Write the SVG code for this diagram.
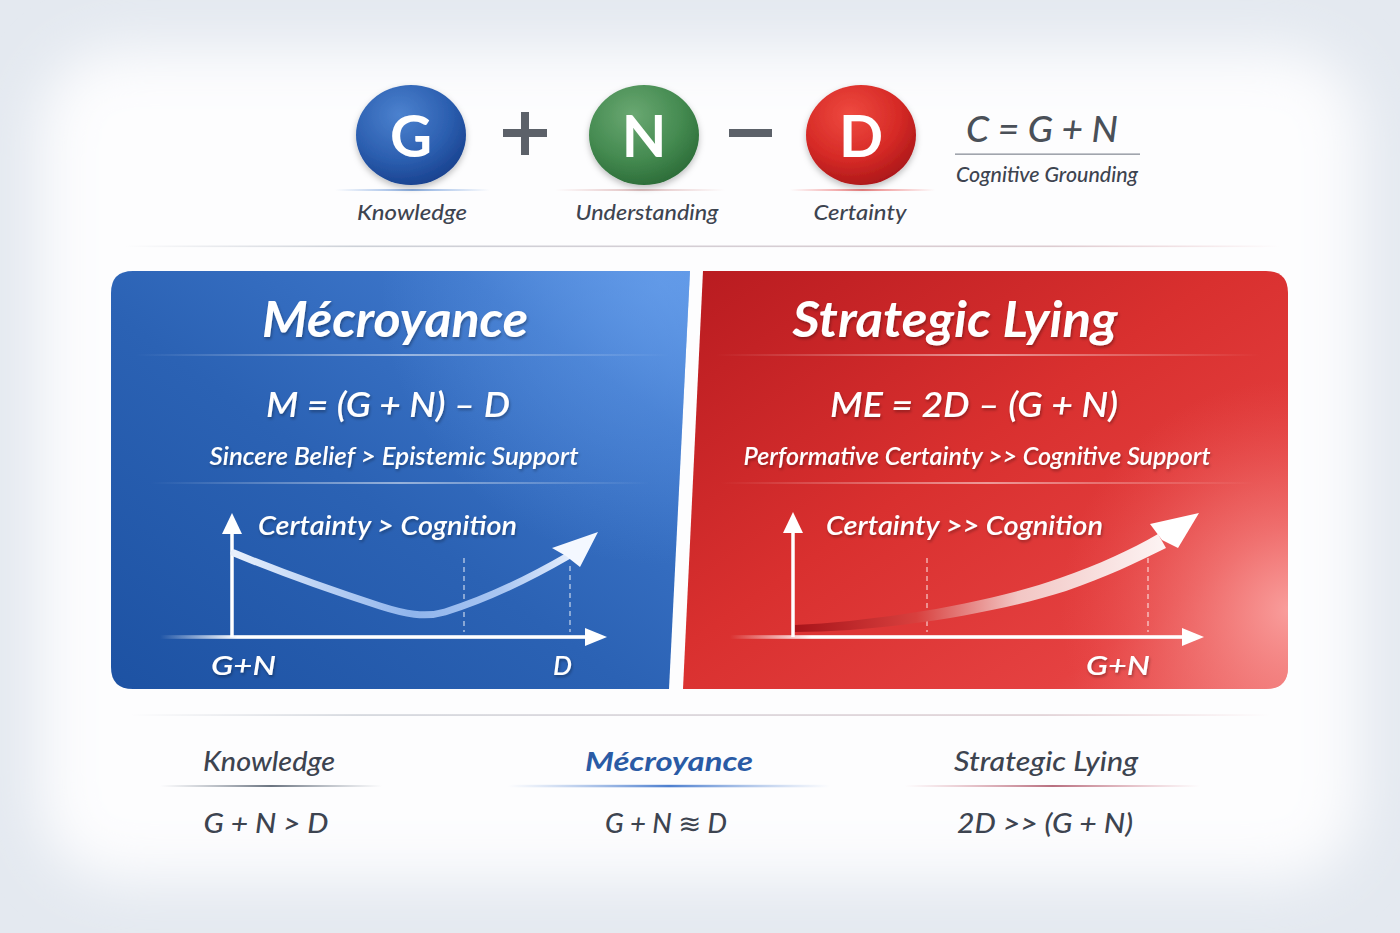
<svg xmlns="http://www.w3.org/2000/svg" width="1400" height="933" viewBox="0 0 1400 933">
<defs>
<style>
.t{font-family:Lato,"Open Sans","DejaVu Sans",sans-serif;font-style:italic}
.lbl{fill:#3d4450;font-weight:500}
.w{fill:#ffffff;filter:url(#ts);font-weight:600}
.b{font-weight:700}
.m{text-anchor:middle}
.ax{stroke:#ffffff;stroke-width:3.5;fill:none}
.ah{fill:#ffffff}
.dash{stroke:#ffffff;stroke-opacity:0.75;stroke-width:1.2;stroke-dasharray:5 4}
.ltr{font-family:Lato,"Open Sans",sans-serif;font-weight:700;fill:#ffffff;text-anchor:middle}
</style>
<filter id="ts" x="-10%" y="-30%" width="120%" height="160%"><feDropShadow dx="1" dy="2" stdDeviation="1.6" flood-color="#000" flood-opacity="0.32"/></filter>
<filter id="blur" x="-10%" y="-10%" width="120%" height="120%"><feGaussianBlur stdDeviation="28"/></filter>
<filter id="cs" x="-30%" y="-30%" width="160%" height="160%"><feDropShadow dx="0" dy="3" stdDeviation="3" flood-color="#000" flood-opacity="0.25"/></filter>
<radialGradient id="gG" cx="0.4" cy="0.3" r="0.75"><stop offset="0" stop-color="#4c82cf"/><stop offset="0.6" stop-color="#2c5fb0"/><stop offset="1" stop-color="#173f8c"/></radialGradient>
<radialGradient id="gN" cx="0.4" cy="0.3" r="0.75"><stop offset="0" stop-color="#6aa872"/><stop offset="0.6" stop-color="#448a50"/><stop offset="1" stop-color="#2a6a36"/></radialGradient>
<radialGradient id="gD" cx="0.4" cy="0.3" r="0.75"><stop offset="0" stop-color="#ef4a40"/><stop offset="0.6" stop-color="#d62a26"/><stop offset="1" stop-color="#a81618"/></radialGradient>
<linearGradient id="pb" x1="0" y1="1" x2="1" y2="0"><stop offset="0" stop-color="#1d52a3"/><stop offset="0.45" stop-color="#2b62b4"/><stop offset="0.8" stop-color="#3d76ca"/><stop offset="1" stop-color="#5a92e2"/></linearGradient>
<radialGradient id="pbh" cx="660" cy="285" r="280" gradientUnits="userSpaceOnUse"><stop offset="0" stop-color="#6aa2ee" stop-opacity="0.6"/><stop offset="1" stop-color="#6aa2ee" stop-opacity="0"/></radialGradient>
<linearGradient id="pr" x1="0" y1="0" x2="1" y2="1"><stop offset="0" stop-color="#b81b20"/><stop offset="0.45" stop-color="#d9302f"/><stop offset="0.8" stop-color="#e54141"/><stop offset="1" stop-color="#ec6464"/></linearGradient>
<radialGradient id="prh" cx="1290" cy="610" r="230" gradientUnits="userSpaceOnUse"><stop offset="0" stop-color="#fba6a4" stop-opacity="0.9"/><stop offset="0.55" stop-color="#f58583" stop-opacity="0.4"/><stop offset="1" stop-color="#f06060" stop-opacity="0"/></radialGradient>
<linearGradient id="sepw" x1="0" x2="1"><stop offset="0" stop-color="#fff" stop-opacity="0"/><stop offset="0.5" stop-color="#fff" stop-opacity="0.5"/><stop offset="1" stop-color="#fff" stop-opacity="0"/></linearGradient>
<linearGradient id="sepg" x1="0" x2="1"><stop offset="0" stop-color="#c8ccd4" stop-opacity="0"/><stop offset="0.2" stop-color="#cdd1d8"/><stop offset="0.8" stop-color="#dccbd0"/><stop offset="1" stop-color="#e8b8be" stop-opacity="0"/></linearGradient>
<linearGradient id="xf" x1="0" x2="1"><stop offset="0" stop-color="#fff" stop-opacity="0"/><stop offset="0.18" stop-color="#fff" stop-opacity="1"/><stop offset="1" stop-color="#fff"/></linearGradient>
<linearGradient id="cb" x1="234" y1="0" x2="590" y2="0" gradientUnits="userSpaceOnUse"><stop offset="0" stop-color="#e8f0fc"/><stop offset="0.5" stop-color="#8fb4ec"/><stop offset="0.75" stop-color="#a9c6f2"/><stop offset="1" stop-color="#f4f8ff"/></linearGradient>
<linearGradient id="cr" x1="795" y1="0" x2="1200" y2="0" gradientUnits="userSpaceOnUse"><stop offset="0" stop-color="#a8141a"/><stop offset="0.3" stop-color="#d8403e"/><stop offset="0.55" stop-color="#f2c6c4"/><stop offset="1" stop-color="#ffffff"/></linearGradient>
<linearGradient id="ub" x1="0" x2="1"><stop offset="0" stop-color="#7ea3dd" stop-opacity="0"/><stop offset="0.5" stop-color="#4d7fcf"/><stop offset="1" stop-color="#7ea3dd" stop-opacity="0"/></linearGradient>
<linearGradient id="ug" x1="0" x2="1"><stop offset="0" stop-color="#8a93a0" stop-opacity="0"/><stop offset="0.5" stop-color="#6b7480"/><stop offset="1" stop-color="#8a93a0" stop-opacity="0"/></linearGradient>
<linearGradient id="ur" x1="0" x2="1"><stop offset="0" stop-color="#d88a96" stop-opacity="0"/><stop offset="0.5" stop-color="#b87080"/><stop offset="1" stop-color="#d88a96" stop-opacity="0"/></linearGradient>
<linearGradient id="sb" x1="0" x2="1"><stop offset="0" stop-color="#5d8fd6" stop-opacity="0"/><stop offset="0.5" stop-color="#5d8fd6" stop-opacity="0.7"/><stop offset="1" stop-color="#5d8fd6" stop-opacity="0"/></linearGradient>
<linearGradient id="sn" x1="0" x2="1"><stop offset="0" stop-color="#d69090" stop-opacity="0"/><stop offset="0.5" stop-color="#c99" stop-opacity="0.6"/><stop offset="1" stop-color="#d69090" stop-opacity="0"/></linearGradient>
<linearGradient id="sd" x1="0" x2="1"><stop offset="0" stop-color="#e85050" stop-opacity="0"/><stop offset="0.5" stop-color="#e85050" stop-opacity="0.7"/><stop offset="1" stop-color="#e85050" stop-opacity="0"/></linearGradient>
</defs>

<g id="background">
<rect width="1400" height="933" fill="#e4e9f0"/>
<rect x="40" y="50" width="1320" height="830" rx="80" fill="#fdfdfe" filter="url(#blur)"/>
</g>

<g id="header">
<g id="node-G">
<rect x="335" y="189" width="155" height="2" fill="url(#sb)"/>
<ellipse cx="411" cy="135" rx="55" ry="50" fill="url(#gG)" filter="url(#cs)"/>
<text class="ltr" x="411" y="157" font-size="58">G</text>
<text class="t lbl m" x="412" y="220" font-size="22" textLength="110" lengthAdjust="spacingAndGlyphs">Knowledge</text>
</g>
<g id="op-plus" fill="#5c6169">
<rect x="503" y="129" width="44" height="8"/>
<rect x="521" y="112" width="8" height="43"/>
</g>
<g id="node-N">
<rect x="555" y="189" width="170" height="2" fill="url(#sn)"/>
<ellipse cx="644" cy="135" rx="55" ry="50" fill="url(#gN)" filter="url(#cs)"/>
<text class="ltr" x="644" y="157" font-size="58">N</text>
<text class="t lbl m" x="647" y="220" font-size="22" textLength="143" lengthAdjust="spacingAndGlyphs">Understanding</text>
</g>
<g id="op-minus" fill="#5c6169">
<rect x="729" y="129" width="43" height="8"/>
</g>
<g id="node-D">
<rect x="790" y="189" width="145" height="2" fill="url(#sd)"/>
<ellipse cx="861" cy="135" rx="55" ry="50" fill="url(#gD)" filter="url(#cs)"/>
<text class="ltr" x="861" y="157" font-size="58">D</text>
<text class="t lbl m" x="860" y="220" font-size="22" textLength="93" lengthAdjust="spacingAndGlyphs">Certainty</text>
</g>
<g id="formula-C">
<text class="t" x="966" y="142" font-size="36" font-weight="500" fill="#4a5058" textLength="152" lengthAdjust="spacingAndGlyphs">C = G + N</text>
<rect x="955" y="153.5" width="185" height="1.3" fill="#8a9099"/>
<text class="t lbl" x="956" y="182" font-size="21" textLength="182" lengthAdjust="spacingAndGlyphs">Cognitive Grounding</text>
</g>
<rect x="125" y="245.5" width="1155" height="1.6" fill="url(#sepg)"/>
</g>

<g id="panel-mecroyance">
<path d="M133,271 L690,271 L669,689 L133,689 Q111,689 111,667 L111,293 Q111,271 133,271 Z" fill="url(#pb)"/>
<path d="M133,271 L690,271 L669,689 L133,689 Q111,689 111,667 L111,293 Q111,271 133,271 Z" fill="url(#pbh)"/>
<text class="t w b m" x="395" y="337" font-size="50" textLength="266" lengthAdjust="spacingAndGlyphs">Mécroyance</text>
<rect x="135" y="354" width="535" height="2" fill="url(#sepw)"/>
<text class="t w m" x="388" y="417" font-size="35" textLength="244" lengthAdjust="spacingAndGlyphs">M = (G + N) – D</text>
<text class="t w m" x="394" y="465" font-size="25" textLength="369" lengthAdjust="spacingAndGlyphs">Sincere Belief &gt; Epistemic Support</text>
<rect x="150" y="482" width="500" height="2" fill="url(#sepw)"/>
<g id="chart-blue">
<line class="dash" x1="464" y1="558" x2="464" y2="632"/>
<line class="dash" x1="570" y1="566" x2="570" y2="632"/>
<rect x="160" y="635.2" width="430" height="3.6" fill="url(#xf)"/>
<polygon class="ah" points="607,637 585,628 585,646"/>
<line class="ax" x1="232" y1="637" x2="232" y2="530"/>
<polygon class="ah" points="232,513 222,534 242,534"/>
<path d="M234,553 C280,572 330,590 380,606 C405,614 425,618 445,612 C490,598 530,578 568,556" fill="none" stroke="url(#cb)" stroke-width="7" stroke-linecap="round"/>
<polygon points="598,532 552,548 566,556 580,567" fill="#f4f8ff"/>
<text class="t w" x="258" y="535" font-size="27" textLength="259" lengthAdjust="spacingAndGlyphs">Certainty &gt; Cognition</text>
<text class="t w" x="211" y="675" font-size="26" textLength="65" lengthAdjust="spacingAndGlyphs">G+N</text>
<text class="t w" x="553" y="675" font-size="26" textLength="19" lengthAdjust="spacingAndGlyphs">D</text>
</g>
</g>

<g id="panel-strategic-lying">
<path d="M703,271 L1266,271 Q1288,271 1288,293 L1288,667 Q1288,689 1266,689 L683,689 Z" fill="url(#pr)"/>
<path d="M703,271 L1266,271 Q1288,271 1288,293 L1288,667 Q1288,689 1266,689 L683,689 Z" fill="url(#prh)"/>
<text class="t w b m" x="955" y="337" font-size="50" textLength="325" lengthAdjust="spacingAndGlyphs">Strategic Lying</text>
<rect x="715" y="354" width="545" height="2" fill="url(#sepw)"/>
<text class="t w m" x="974" y="417" font-size="35" textLength="288" lengthAdjust="spacingAndGlyphs">ME = 2D – (G + N)</text>
<text class="t w m" x="977" y="465" font-size="25" textLength="467" lengthAdjust="spacingAndGlyphs">Performative Certainty &gt;&gt; Cognitive Support</text>
<rect x="720" y="482" width="535" height="2" fill="url(#sepw)"/>
<g id="chart-red">
<line class="dash" x1="927" y1="558" x2="927" y2="632"/>
<line class="dash" x1="1148" y1="558" x2="1148" y2="632"/>
<rect x="730" y="635.2" width="455" height="3.6" fill="url(#xf)"/>
<polygon class="ah" points="1204,637 1182,628 1182,646"/>
<line class="ax" x1="793" y1="637" x2="793" y2="530"/>
<polygon class="ah" points="793,512 783,533 803,533"/>
<path d="M795,625 C880,621 990,603 1060,578 C1100,564 1130,550 1158,534 L1166,548 C1136,563 1106,577 1066,591 C995,614 882,632 795,632 Z" fill="url(#cr)"/>
<polygon points="1199,513 1150,524 1162,540 1178,548" fill="#ffffff"/>
<text class="t w" x="826" y="535" font-size="27" textLength="277" lengthAdjust="spacingAndGlyphs">Certainty &gt;&gt; Cognition</text>
<text class="t w" x="1086" y="675" font-size="26" textLength="64" lengthAdjust="spacingAndGlyphs">G+N</text>
</g>
</g>

<g id="summary">
<rect x="130" y="714.3" width="1140" height="1.5" fill="url(#sepg)"/>
<g id="sum-knowledge">
<text class="t lbl m" x="269" y="771" font-size="27" textLength="132" lengthAdjust="spacingAndGlyphs">Knowledge</text>
<rect x="160" y="785" width="222" height="2" fill="url(#ug)"/>
<text class="t lbl m" x="266" y="833" font-size="26" textLength="125" lengthAdjust="spacingAndGlyphs">G + N &gt; D</text>
</g>
<g id="sum-mecroyance">
<text class="t b m" x="669" y="771" font-size="27" fill="#2a5ba5" textLength="168" lengthAdjust="spacingAndGlyphs">Mécroyance</text>
<rect x="508" y="784.8" width="322" height="2.5" fill="url(#ub)"/>
<text class="t lbl m" x="666" y="833" font-size="26" textLength="122" lengthAdjust="spacingAndGlyphs">G + N ≋ D</text>
</g>
<g id="sum-strategic">
<text class="t lbl m" x="1046" y="771" font-size="27" textLength="184" lengthAdjust="spacingAndGlyphs">Strategic Lying</text>
<rect x="905" y="785" width="295" height="2" fill="url(#ur)"/>
<text class="t lbl m" x="1045" y="833" font-size="26" textLength="176" lengthAdjust="spacingAndGlyphs">2D &gt;&gt; (G + N)</text>
</g>
</g>
</svg>
